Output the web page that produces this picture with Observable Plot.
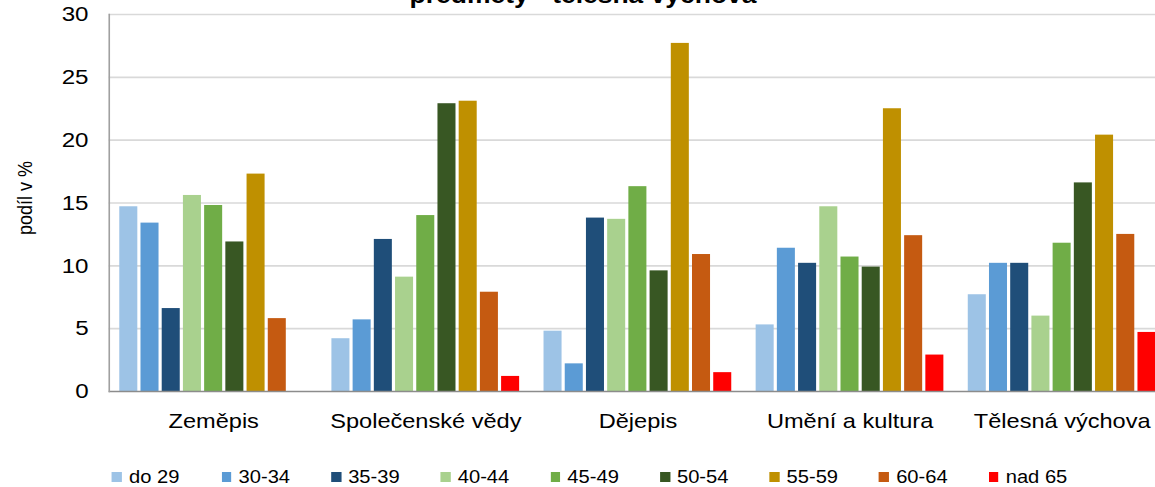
<!DOCTYPE html>
<html>
<head>
<meta charset="utf-8">
<script src="https://cdn.jsdelivr.net/npm/d3@7"></script>
<script src="https://cdn.jsdelivr.net/npm/@observablehq/plot@0.6"></script>
<style>
  html, body { margin: 0; padding: 0; background: #fff; overflow: hidden; width: 1155px; height: 487px; }
  #wrap { position: relative; width: 1014px; height: 487px; transform: scaleX(1.15); transform-origin: 0 0; font-family: "Liberation Sans", Arial, sans-serif; }
  #title { position: absolute; left: 0; top: -16.5px; width: 1014px; text-align: center; font-weight: bold; font-size: 23px; line-height: 23px; color: #000; white-space: nowrap; }
  #ylabel { position: absolute; left: 21.7px; top: 198px; transform: translate(-50%, -50%) rotate(-90deg); font-size: 18px; line-height: 20px; color: #000; white-space: nowrap; }
  #chart { position: absolute; left: 0; top: 0; }
  #legend { position: absolute; left: 97.4px; top: 467px; height: 20px; display: flex; }
  .item { width: 95.3px; height: 20px; display: flex; align-items: center; font-size: 17.5px; color: #000; white-space: nowrap; }
  .sw { width: 8.7px; height: 10px; margin-right: 6.1px; flex: none; }
</style>
</head>
<body>
<div id="wrap">
  <div id="chart"></div>
  <div id="title"></div>
  <div id="ylabel"></div>
  <div id="legend"></div>
</div>
<script>
const titleText = "předměty - tělesná výchova";
const yLabel = "podíl v %";
const categories = ["Zeměpis", "Společenské vědy", "Dějepis", "Umění a kultura", "Tělesná výchova"];
const ages = ["do 29", "30-34", "35-39", "40-44", "45-49", "50-54", "55-59", "60-64", "nad 65"];
const colors = ["#9dc3e6", "#5b9bd5", "#1f4e79", "#a9d18e", "#70ad47", "#385723", "#bf9000", "#c55a11", "#ff0000"];
const yTicks = [0, 5, 10, 15, 20, 25, 30];

// values per age group, in the order of categories
const do29  = [14.7, 4.2, 4.8, 5.3, 7.7];
const a3034 = [13.4, 5.7, 2.2, 11.4, 10.2];
const a3539 = [6.6, 12.1, 13.8, 10.2, 10.2];
const a4044 = [15.6, 9.1, 13.7, 14.7, 6.0];
const a4549 = [14.8, 14.0, 16.3, 10.7, 11.8];
const a5054 = [11.9, 22.9, 9.6, 9.9, 16.6];
const a5559 = [17.3, 23.1, 27.7, 22.5, 20.4];
const a6064 = [5.8, 7.9, 10.9, 12.4, 12.5];
const nad65 = [null, 1.2, 1.5, 2.9, 4.7];
const series = [do29, a3034, a3539, a4044, a4549, a5054, a5559, a6064, nad65];

const rows = [];
categories.forEach((c, ci) => ages.forEach((a, ai) => {
  const v = series[ai][ci];
  if (v != null) rows.push({category: c, age: a, value: v, key: c + "|" + a});
}));
const xDomain = categories.flatMap((c, ci) =>
  [...ages.map(a => c + "|" + a), ...(ci < categories.length - 1 ? ["gap" + ci] : [])]);
const middleKeys = categories.map(c => c + "|" + ages[4]);

const chart = Plot.plot({
  width: 1014,
  height: 445,
  marginTop: 14,
  marginBottom: 54,
  marginLeft: 94.5,
  marginRight: 0,
  style: {fontFamily: "'Liberation Sans', Arial, sans-serif", background: "transparent", color: "#000"},
  x: {type: "band", domain: xDomain, paddingInner: 0.15, paddingOuter: 0.5, round: false, axis: null},
  y: {domain: [0, 30], axis: null},
  color: {domain: ages, range: colors},
  marks: [
    Plot.gridY(yTicks.slice(1), {stroke: "#d9d9d9", strokeOpacity: 1, strokeWidth: 1.6}),
    Plot.barY(rows, {x: "key", y: "value", fill: "age"}),
    Plot.ruleY([0], {stroke: "#8c8c8c", strokeWidth: 1.6}),
    Plot.frame({anchor: "left", stroke: "#a0a0a0", strokeWidth: 1.4}),
    Plot.axisY(yTicks, {tickSize: 0, tickPadding: 18, fontSize: 21, label: null}),
    Plot.axisX(middleKeys, {tickSize: 0, tickPadding: 21.5, fontSize: 20.5, tickFormat: k => k.split("|")[0], label: null})
  ]
});
document.getElementById("chart").appendChild(chart);
document.getElementById("title").textContent = titleText;
document.getElementById("ylabel").textContent = yLabel;

const legend = document.getElementById("legend");
ages.forEach((a, i) => {
  const item = document.createElement("div");
  item.className = "item";
  const sw = document.createElement("span");
  sw.className = "sw";
  sw.style.background = colors[i];
  const t = document.createElement("span");
  t.textContent = a;
  item.appendChild(sw);
  item.appendChild(t);
  legend.appendChild(item);
});
</script>
</body>
</html>
